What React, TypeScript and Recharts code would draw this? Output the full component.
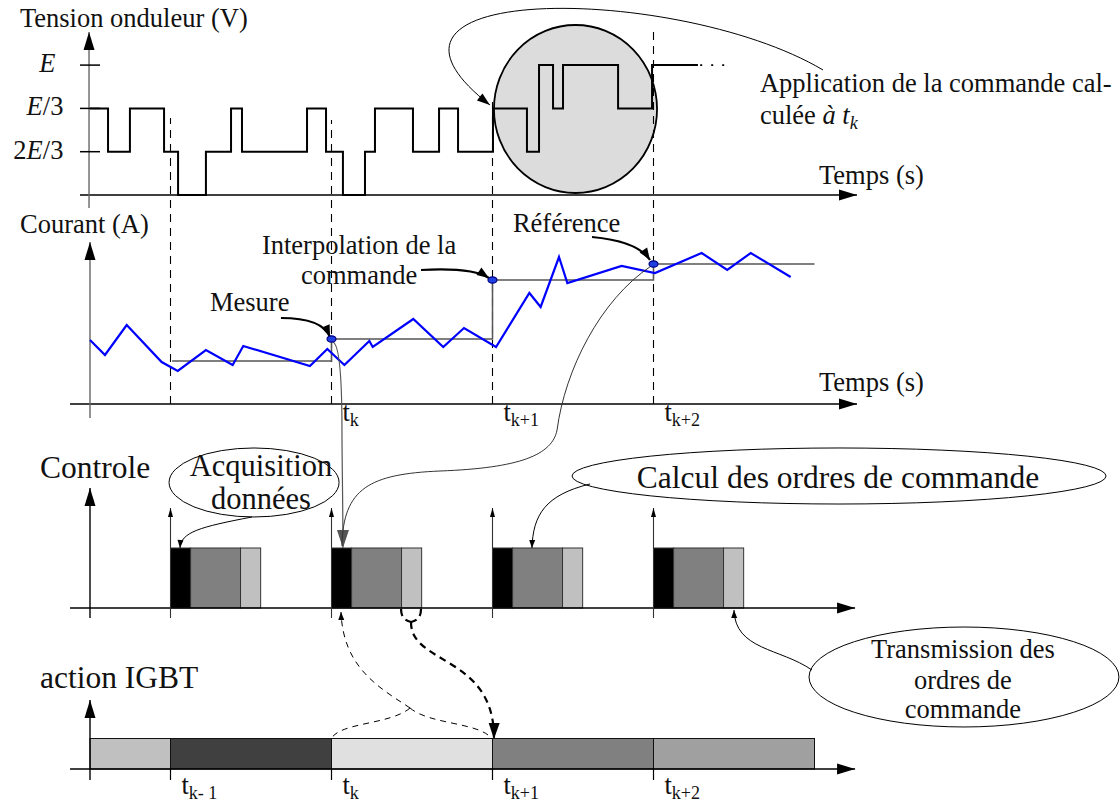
import { ComposedChart, Line, XAxis, YAxis, ReferenceLine, ReferenceArea, ReferenceDot } from 'recharts';

const W = 1120;
const H = 805;
const FONT = '"Liberation Serif", "Times New Roman", serif';

// time axis: one control period per unit, t = 0 on the vertical axes
const T_ZERO_PX = 90;
const PX_PER_T = 161;
const T_DOMAIN: [number, number] = [-T_ZERO_PX / PX_PER_T, (W - T_ZERO_PX) / PX_PER_T];

// four panels share the plot, each with its own hidden y axis
const PANEL_ZERO: Record<string, number> = { v: 195, i: 404, c: 608, g: 769 };
const PANEL_UNIT: Record<string, number> = { v: 43.3, i: 10, c: 60, g: 30.5 };
const panelDomain = (id: string): [number, number] => [
  (PANEL_ZERO[id] - H) / PANEL_UNIT[id],
  PANEL_ZERO[id] / PANEL_UNIT[id],
];

// sampling instants t_{k-1} .. t_{k+2}
const sampleTimes = [0.5, 1.5, 2.5, 3.5];
const sampleSubs = ['k- 1', 'k', 'k+1', 'k+2'];

// inverter voltage (levels in steps of E/3)
const voltageTimes = [0, 0.112, 0.248, 0.46, 0.547, 0.72, 0.876, 0.944, 1.348, 1.466, 1.571, 1.708, 1.77, 2.006, 2.168, 2.286, 2.503, 2.714, 2.789, 2.876, 2.938, 3.28, 3.491, 3.776];
const voltageLevels = [2, 1, 2, 1, 0, 1, 2, 1, 2, 1, 0, 1, 2, 1, 2, 1, 2, 1, 3, 2, 3, 2, 3, 3];
const voltageTickLevels = [3, 2, 1];
const voltageTickLabels = ['E', 'E/3', '2E/3'];

// measured current
const currentTimes = [0, 0.093, 0.228, 0.445, 0.545, 0.72, 0.886, 0.952, 1.366, 1.474, 1.58, 1.735, 1.756, 2.008, 2.194, 2.323, 2.522, 2.729, 2.799, 2.913, 2.965, 3.302, 3.509, 3.799, 3.958, 4.104, 4.352];
const currentValues = [6.4, 4.9, 7.9, 4.2, 3.3, 5.4, 3.9, 5.8, 3.8, 5.5, 3.9, 6.3, 5.7, 8.5, 5.7, 7.6, 5.7, 11.1, 9.7, 14.7, 12.1, 13.8, 13.1, 15.1, 13.4, 15.1, 12.7];

// current reference (held between samples)
const referenceTimes = [0.51, 1.5, 2.5, 3.5, 4.5];
const referenceValues = [4.3, 6.5, 12.4, 14.0, 14.0];

// controller task phases after each sample
const phaseDurations = [0.125, 0.31, 0.125];
const phaseColors = ['#000000', '#808080', '#c0c0c0'];

// IGBT command intervals
const igbtStarts = [0, 0.5, 1.5, 2.5, 3.5];
const igbtEnds = [0.5, 1.5, 2.5, 3.5, 4.5];
const igbtColors = ['#c0c0c0', '#404040', '#e0e0e0', '#808080', '#a0a0a0'];

const voltageData = voltageTimes.map((t, k) => ({ t, v: voltageLevels[k] }));
const currentData = currentTimes.map((t, k) => ({ t, i: currentValues[k] }));
const referenceData = referenceTimes.map((t, k) => ({ t, r: referenceValues[k] }));

type Pt = [number, number];
type Part = { s: string; it?: boolean; sub?: boolean };

function headPoints(tip: Pt, from: Pt, len: number, w: number) {
  const dx = tip[0] - from[0];
  const dy = tip[1] - from[1];
  const L = Math.hypot(dx, dy) || 1;
  const ux = dx / L;
  const uy = dy / L;
  const bx = tip[0] - ux * len;
  const by = tip[1] - uy * len;
  return `${tip[0]},${tip[1]} ${bx - (uy * w) / 2},${by + (ux * w) / 2} ${bx + (uy * w) / 2},${by - (ux * w) / 2}`;
}

// annotation curves, cubic bezier points in panel data units
const connectors = [
  { axis: 'v', pts: [[4.553, 2.887], [3.665, 4.85], [1.491, 4.965], [2.484, 2.079]], w: 1, color: '#000', arrow: [13, 9] },
  { axis: 'i', pts: [[1.186, 8.6], [1.366, 8.6], [1.46, 7.9], [1.491, 6.7]], w: 2.2, color: '#000', arrow: [12, 9] },
  { axis: 'i', pts: [[2.056, 13.4], [2.298, 13.6], [2.422, 13.2], [2.478, 12.6]], w: 2.2, color: '#000', arrow: [12, 9] },
  { axis: 'i', pts: [[3.118, 16.7], [3.323, 16.4], [3.429, 15.6], [3.478, 14.4]], w: 2.2, color: '#000', arrow: [12, 9] },
  { axis: 'i', pts: [[1.509, 6.2], [1.553, 5.9], [1.565, 2.4], [1.565, -2.6], [1.565, -5.6], [1.571, -9.6], [1.571, -14.4]], w: 1.2, color: '#555', arrow: [18, 12] },
  { axis: 'i', pts: [[3.485, 13.8], [3.168, 10.4], [2.95, 3.4], [2.901, -2.6], [2.87, -5.1], [2.671, -6.4], [2.174, -6.7], [1.739, -7.0], [1.571, -8.4], [1.565, -14.2]], w: 1, color: '#333' },
  { axis: 'c', pts: [[1.006, 1.517], [0.683, 1.35], [0.565, 1.267], [0.559, 1.0]], w: 1, color: '#000', arrow: [8, 6] },
  { axis: 'c', pts: [[3.106, 2.067], [2.826, 1.883], [2.752, 1.55], [2.745, 1.0]], w: 1, color: '#000', arrow: [8, 6] },
  { axis: 'c', pts: [[4.484, -1.033], [4.286, -0.667], [4.006, -0.7], [4.0, -0.033]], w: 1, color: '#000', arrow: [8, 6] },
  { axis: 'g', pts: [[1.988, 2.0], [1.801, 2.656], [1.571, 3.311], [1.559, 5.148]], w: 1, color: '#000', dash: '6 5', arrow: [8, 6] },
  { axis: 'g', pts: [[1.988, 2.0], [1.863, 1.443], [1.553, 1.541], [1.497, 0.984]], w: 1, color: '#000', dash: '6 5' },
  { axis: 'g', pts: [[1.988, 2.0], [2.112, 1.443], [2.422, 1.541], [2.497, 0.984]], w: 1, color: '#000', dash: '6 5' },
  { axis: 'g', pts: [[1.932, 5.246], [1.932, 4.984], [1.957, 4.852], [1.994, 4.82]], w: 2.2, color: '#000', dash: '7 5' },
  { axis: 'g', pts: [[2.056, 5.246], [2.056, 4.984], [2.031, 4.852], [1.994, 4.82]], w: 2.2, color: '#000', dash: '7 5' },
  { axis: 'g', pts: [[1.994, 4.82], [1.988, 3.41], [2.516, 3.738], [2.509, 0.984]], w: 2.2, color: '#000', dash: '7 5', arrow: [16, 11] },
];

// axes drawn as arrows: [axis, t1, y1, t2, y2, colour, arrow]
const axisLines: [string, number, number, number, number, string, number[] | null][] = [
  ['v', -0.062, 0, 4.764, 0, '#000', [18, 11]],
  ['i', -0.124, 0, 4.764, 0, '#000', [18, 11]],
  ['c', -0.124, 0, 4.752, 0, '#000', [18, 11]],
  ['g', -0.124, 0, 4.752, 0, '#000', [18, 11]],
  ['v', -0.006, -0.3, -0.006, 3.764, '#666', [18, 11]],
  ['i', 0, -1.4, 0, 16.2, '#666', [18, 11]],
  ['c', 0, -0.167, 0, 2.0, '#000', [18, 11]],
  ['g', 0, -0.361, 0, 2.262, '#000', [18, 11]],
];

const dashTops = [28.6, 28.4, 30.7, 37.4];

const labelTexts: { axis: string; t: number; y: number; size?: number; anchor?: string; parts: Part[] }[] = [
  { axis: 'v', t: -0.435, y: 3.88, parts: [{ s: 'Tension onduleur (V)' }] },
  { axis: 'v', t: 4.528, y: 0.254, parts: [{ s: 'Temps (s)' }] },
  { axis: 'v', t: 4.161, y: 2.379, parts: [{ s: 'Application de la commande cal-' }] },
  { axis: 'v', t: 4.161, y: 1.64, parts: [{ s: 'culée ' }, { s: 'à t', it: true }, { s: 'k', it: true, sub: true }] },
  { axis: 'i', t: -0.435, y: 17.1, parts: [{ s: 'Courant (A)' }] },
  { axis: 'i', t: 1.671, y: 15.0, anchor: 'middle', parts: [{ s: 'Interpolation de la' }] },
  { axis: 'i', t: 1.671, y: 12.0, anchor: 'middle', parts: [{ s: 'commande' }] },
  { axis: 'i', t: 0.745, y: 9.3, parts: [{ s: 'Mesure' }] },
  { axis: 'i', t: 2.627, y: 17.2, parts: [{ s: 'Référence' }] },
  { axis: 'i', t: 4.528, y: 1.3, parts: [{ s: 'Temps (s)' }] },
  { axis: 'c', t: -0.311, y: 2.167, size: 31.5, parts: [{ s: 'Controle' }] },
  { axis: 'c', t: 1.062, y: 2.2, size: 30.5, anchor: 'middle', parts: [{ s: 'Acquisition' }] },
  { axis: 'c', t: 1.062, y: 1.65, size: 30.5, anchor: 'middle', parts: [{ s: 'données' }] },
  { axis: 'c', t: 4.646, y: 2.0, size: 31.5, anchor: 'middle', parts: [{ s: 'Calcul des ordres de commande' }] },
  { axis: 'c', t: 5.422, y: -0.833, anchor: 'middle', parts: [{ s: 'Transmission des' }] },
  { axis: 'c', t: 5.422, y: -1.35, anchor: 'middle', parts: [{ s: 'ordres de' }] },
  { axis: 'c', t: 5.422, y: -1.833, anchor: 'middle', parts: [{ s: 'commande' }] },
  { axis: 'g', t: -0.311, y: 2.656, size: 31.5, parts: [{ s: 'action IGBT' }] },
];

// ellipses: [axis, t1, t2, y1, y2, fill, strokeWidth]
const ellipses: [string, number, number, number, number, string, number][] = [
  ['v', 2.509, 3.522, 0.046, 3.926, '#dcdcdc', 1.8],
  ['c', 0.491, 1.547, 1.517, 2.667, 'none', 1],
  ['c', 2.994, 6.311, 1.733, 2.667, 'none', 1],
  ['c', 4.466, 6.391, -1.983, -0.317, 'none', 1],
];

function renderParts(parts: Part[], size: number) {
  return parts.map((p, k) => (
    <tspan
      key={k}
      fontStyle={p.it ? 'italic' : 'normal'}
      fontSize={p.sub ? size * 0.68 : size}
      dy={p.sub ? size * 0.2 : 0}
    >
      {p.s}
    </tspan>
  ));
}

const textShape = (parts: Part[], size: number, anchor: string) => (p: any) => (
  <text x={p.cx} y={p.cy} fontFamily={FONT} fontSize={size} textAnchor={anchor} fill="#111">
    {renderParts(parts, size)}
  </text>
);

const connectorShape = (c: any) => (p: any) => {
  const [t0, y0] = c.pts[0];
  const u = PANEL_UNIT[c.axis];
  const P: Pt[] = c.pts.map(([t, y]: Pt) => [p.x1 + (t - t0) * PX_PER_T, p.y1 - (y - y0) * u]);
  let d = `M${P[0][0]},${P[0][1]}`;
  for (let k = 1; k + 2 < P.length; k += 3) {
    d += ` C${P[k][0]},${P[k][1]} ${P[k + 1][0]},${P[k + 1][1]} ${P[k + 2][0]},${P[k + 2][1]}`;
  }
  const n = P.length;
  return (
    <g>
      <path d={d} fill="none" stroke={c.color} strokeWidth={c.w} strokeDasharray={c.dash} />
      {c.arrow && <polygon points={headPoints(P[n - 1], P[n - 2], c.arrow[0], c.arrow[1])} fill={c.color} />}
    </g>
  );
};

const arrowLineShape = (color: string, width: number, arrow: number[] | null, dash?: string) => (p: any) => (
  <g>
    <line x1={p.x1} y1={p.y1} x2={p.x2} y2={p.y2} stroke={color} strokeWidth={width} strokeDasharray={dash} />
    {arrow && <polygon points={headPoints([p.x2, p.y2], [p.x1, p.y1], arrow[0], arrow[1])} fill="#000" />}
  </g>
);

const ellipseShape = (fill: string, sw: number) => (p: any) => (
  <ellipse
    cx={p.x + p.width / 2}
    cy={p.y + p.height / 2}
    rx={p.width / 2}
    ry={p.height / 2}
    fill={fill}
    stroke="#000"
    strokeWidth={sw}
  />
);

const boxShape = (fill: string, stroke: string) => (p: any) => (
  <rect x={p.x} y={p.y} width={p.width} height={p.height} fill={fill} stroke={stroke} strokeWidth={1} />
);

const markerShape = (p: any) => (
  <ellipse cx={p.cx} cy={p.cy} rx={4.5} ry={3.2} fill="#1f3fe0" stroke="#000080" strokeWidth={1.2} />
);

function voltageParts(label: string): Part[] {
  return label.split('').map((ch) => ({ s: ch, it: ch === 'E' }));
}

export default function App() {
  const boxes: any[] = [];
  sampleTimes.forEach((s, k) => {
    let start = s;
    phaseDurations.forEach((dur, j) => {
      boxes.push({ key: `b${k}-${j}`, x1: start, x2: start + dur, fill: phaseColors[j] });
      start += dur;
    });
  });

  return (
    <div style={{ position: 'absolute', left: 0, top: 0, width: W, height: H, background: '#fff' }}>
      <ComposedChart width={W} height={H} margin={{ top: 0, right: 0, bottom: 0, left: 0 }}>
        <XAxis dataKey="t" type="number" domain={T_DOMAIN} allowDataOverflow hide />
        {['v', 'i', 'c', 'g'].map((id) => (
          <YAxis key={id} yAxisId={id} type="number" domain={panelDomain(id)} allowDataOverflow hide />
        ))}

        {ellipses.map(([axis, t1, t2, y1, y2, fill, sw], k) => (
          <ReferenceArea key={`e${k}`} yAxisId={axis} x1={t1} x2={t2} y1={y1} y2={y2} shape={ellipseShape(fill, sw)} />
        ))}

        {boxes.map((b) => (
          <ReferenceArea key={b.key} yAxisId="c" x1={b.x1} x2={b.x2} y1={0} y2={1} shape={boxShape(b.fill, '#333')} />
        ))}

        {igbtStarts.map((s, k) => (
          <ReferenceArea key={`g${k}`} yAxisId="g" x1={s} x2={igbtEnds[k]} y1={0} y2={1} shape={boxShape(igbtColors[k], '#111')} />
        ))}

        {sampleTimes.map((s, k) => (
          <ReferenceLine
            key={`d${k}`}
            yAxisId="i"
            segment={[{ x: s, y: 0 }, { x: s, y: dashTops[k] }]}
            shape={arrowLineShape('#000', 1.1, null, '8 6')}
          />
        ))}

        {axisLines.map(([axis, t1, y1, t2, y2, color, arrow], k) => (
          <ReferenceLine
            key={`a${k}`}
            yAxisId={axis}
            segment={[{ x: t1, y: y1 }, { x: t2, y: y2 }]}
            shape={arrowLineShape(color, 1.4, arrow)}
          />
        ))}

        {voltageTickLevels.map((lv, k) => (
          <ReferenceLine
            key={`vt${k}`}
            yAxisId="v"
            segment={[{ x: -0.062, y: lv }, { x: 0.062, y: lv }]}
            shape={arrowLineShape('#000', 1.5, null)}
          />
        ))}

        {sampleTimes.map((s, k) => (
          <ReferenceLine
            key={`ca${k}`}
            yAxisId="c"
            segment={[{ x: s, y: -0.167 }, { x: s, y: 1.667 }]}
            shape={arrowLineShape('#333', 1.1, [9, 5])}
          />
        ))}

        {sampleTimes.map((s, k) => (
          <ReferenceLine
            key={`gt${k}`}
            yAxisId="g"
            segment={[{ x: s, y: 0 }, { x: s, y: -0.361 }]}
            shape={arrowLineShape('#000', 1.2, null)}
          />
        ))}

        <ReferenceLine
          yAxisId="v"
          segment={[{ x: 3.79, y: 3 }, { x: 3.99, y: 3 }]}
          shape={arrowLineShape('#000', 1.8, null, '2 9')}
        />

        <Line
          data={voltageData}
          yAxisId="v"
          dataKey="v"
          type="stepAfter"
          stroke="#000"
          strokeWidth={2}
          dot={false}
          activeDot={false}
          isAnimationActive={false}
        />
        <Line
          data={referenceData}
          yAxisId="i"
          dataKey="r"
          type="stepAfter"
          stroke="#555"
          strokeWidth={1.5}
          dot={false}
          activeDot={false}
          isAnimationActive={false}
        />
        <Line
          data={currentData}
          yAxisId="i"
          dataKey="i"
          type="linear"
          stroke="#0000ff"
          strokeWidth={2.2}
          dot={false}
          activeDot={false}
          isAnimationActive={false}
        />

        {connectors.map((c, k) => (
          <ReferenceLine
            key={`cn${k}`}
            yAxisId={c.axis}
            segment={[
              { x: c.pts[0][0], y: c.pts[0][1] },
              { x: c.pts[c.pts.length - 1][0], y: c.pts[c.pts.length - 1][1] },
            ]}
            shape={connectorShape(c)}
          />
        ))}

        {sampleTimes.slice(1).map((s, k) => (
          <ReferenceDot key={`m${k}`} yAxisId="i" x={s} y={referenceValues[k + 1]} shape={markerShape} />
        ))}

        {voltageTickLevels.map((lv, k) => (
          <ReferenceDot
            key={`vl${k}`}
            yAxisId="v"
            x={k === 0 ? -0.215 : -0.165}
            y={lv - 0.16}
            shape={textShape(voltageParts(voltageTickLabels[k]), 26.5, 'end')}
          />
        ))}

        {sampleTimes.slice(1).map((s, k) => (
          <ReferenceDot
            key={`tl${k}`}
            yAxisId="i"
            x={s + 0.068}
            y={-1.7}
            shape={textShape([{ s: 't' }, { s: sampleSubs[k + 1], sub: true }], 26.5, 'start')}
          />
        ))}

        {sampleTimes.map((s, k) => (
          <ReferenceDot
            key={`bl${k}`}
            yAxisId="g"
            x={s + 0.068}
            y={-0.82}
            shape={textShape([{ s: 't' }, { s: sampleSubs[k], sub: true }], 26.5, 'start')}
          />
        ))}

        {labelTexts.map((lt, k) => (
          <ReferenceDot
            key={`lt${k}`}
            yAxisId={lt.axis}
            x={lt.t}
            y={lt.y}
            shape={textShape(lt.parts, lt.size ?? 26.5, lt.anchor ?? 'start')}
          />
        ))}
      </ComposedChart>
    </div>
  );
}
